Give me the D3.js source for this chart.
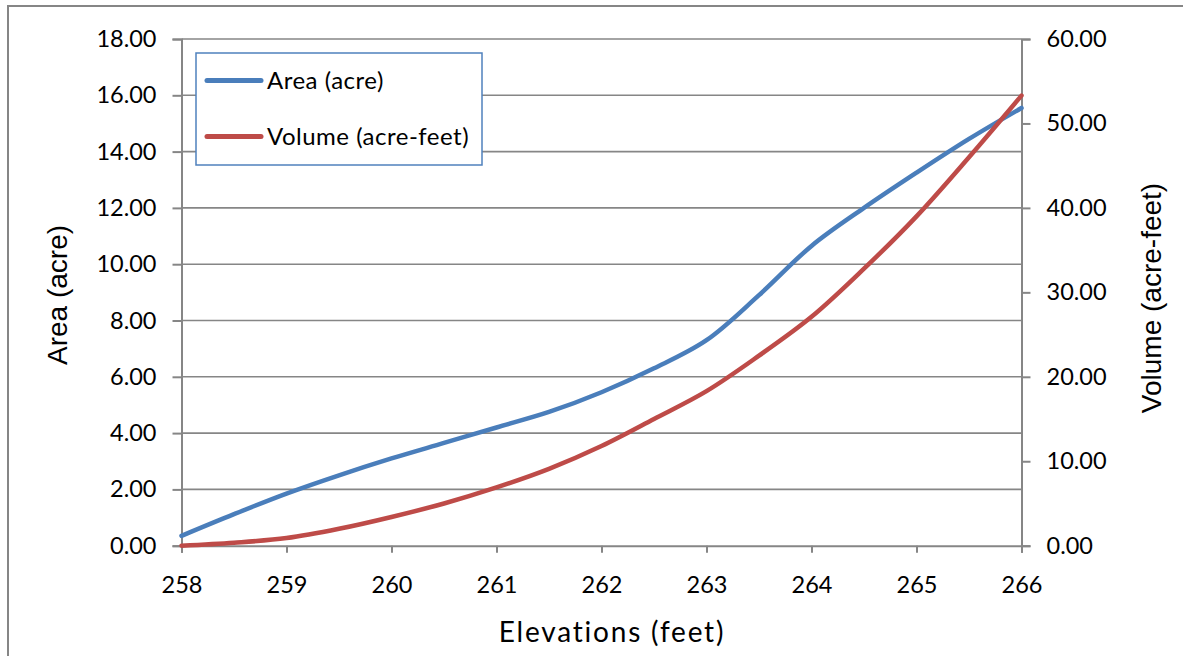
<!DOCTYPE html>
<html>
<head>
<meta charset="utf-8">
<script src="https://cdn.jsdelivr.net/npm/d3@7"></script>
<style>
  html, body { margin: 0; padding: 0; background: #fff; }
  svg { display: block; }
  .tick-label { font-family: Lato, "Open Sans", sans-serif; font-size: 23.5px; fill: #000; }
  .legend-label { font-family: Lato, "Open Sans", sans-serif; font-size: 24px; fill: #000; letter-spacing: 0.5px; }
  .title-h { font-family: Lato, "Open Sans", sans-serif; font-size: 28px; fill: #000; letter-spacing: 1.8px; }
  .title-v { font-family: "Liberation Sans", Arial, sans-serif; font-size: 28px; fill: #000; }
</style>
</head>
<body>
<svg id="chart" width="1183" height="656"></svg>
<script>
// Elevation (feet) at half-foot steps
const elevations = [258, 258.5, 259, 259.5, 260, 260.5, 261, 261.5, 262, 262.5, 263, 263.5, 264, 264.5, 265, 265.5, 266];
// Surface area (acre) at each elevation
const areaAcre = [0.35, 1.12, 1.85, 2.5, 3.1, 3.65, 4.2, 4.75, 5.45, 6.3, 7.3, 8.9, 10.65, 12.0, 13.25, 14.45, 15.55];
// Storage volume (acre-feet) at each elevation
const volumeAcreFeet = [0.0, 0.35, 0.9, 2.0, 3.4, 5.0, 6.9, 9.1, 11.8, 15.0, 18.3, 22.5, 27.1, 32.8, 39.0, 46.0, 53.3];

const xTicks = [258, 259, 260, 261, 262, 263, 264, 265, 266];
const leftTicks = [0, 2, 4, 6, 8, 10, 12, 14, 16, 18];
const rightTicks = [0, 10, 20, 30, 40, 50, 60];

const seriesNames = ["Area (acre)", "Volume (acre-feet)"];
const seriesColors = ["#4a7ebb", "#be4b48"];

const svg = d3.select("#chart");
const W = 1183, H = 656;
const plot = { left: 181.5, right: 1021.5, top: 39, bottom: 545.7 };
const gray = "#868686";

// Outer chart frame (runs past the right and bottom edges)
svg.append("rect")
  .attr("x", 8).attr("y", 6)
  .attr("width", W + 20).attr("height", H + 20)
  .attr("fill", "#fff").attr("stroke", gray).attr("stroke-width", 2);

const x = d3.scaleLinear().domain([258, 266]).range([plot.left, plot.right]);
const yL = d3.scaleLinear().domain([0, 18]).range([plot.bottom, plot.top]);
const yR = d3.scaleLinear().domain([0, 60]).range([plot.bottom, plot.top]);

// Horizontal gridlines at the left-axis ticks
svg.append("g")
  .selectAll("line")
  .data(leftTicks.filter(d => d > 0))
  .join("line")
  .attr("x1", plot.left).attr("x2", plot.right)
  .attr("y1", d => yL(d)).attr("y2", d => yL(d))
  .attr("stroke", gray).attr("stroke-width", 1.6);

// Left axis
const axL = svg.append("g")
  .attr("transform", `translate(${plot.left},0)`)
  .call(d3.axisLeft(yL).tickValues(leftTicks).tickSize(9).tickPadding(16).tickFormat(d3.format(".2f")));
// Right axis
const axR = svg.append("g")
  .attr("transform", `translate(${plot.right},0)`)
  .call(d3.axisRight(yR).tickValues(rightTicks).tickSize(9).tickPadding(16).tickFormat(d3.format(".2f")));
// Bottom axis
const axB = svg.append("g")
  .attr("transform", `translate(0,${plot.bottom})`)
  .call(d3.axisBottom(x).tickValues(xTicks).tickSize(7).tickPadding(24).tickFormat(d3.format("d")));

[axL, axR, axB].forEach(ax => {
  ax.select(".domain").attr("stroke", gray).attr("stroke-width", 2);
  ax.selectAll(".tick line").attr("stroke", gray).attr("stroke-width", 2);
  ax.selectAll(".tick text").attr("class", "tick-label").attr("font-size", null).attr("font-family", null);
  ax.attr("font-size", null).attr("font-family", null);
});
axB.selectAll(".tick text").attr("dy", "0.71em");

// Data lines
const rows = elevations.map((e, i) => ({ e, area: areaAcre[i], vol: volumeAcreFeet[i] }));
const lineArea = d3.line().x(d => x(d.e)).y(d => yL(d.area)).curve(d3.curveCatmullRom.alpha(0.5));
const lineVol = d3.line().x(d => x(d.e)).y(d => yR(d.vol)).curve(d3.curveCatmullRom.alpha(0.5));

svg.append("path").datum(rows).attr("d", lineArea)
  .attr("fill", "none").attr("stroke", seriesColors[0]).attr("stroke-width", 4.5)
  .attr("stroke-linejoin", "round").attr("stroke-linecap", "round");
svg.append("path").datum(rows).attr("d", lineVol)
  .attr("fill", "none").attr("stroke", seriesColors[1]).attr("stroke-width", 4.5)
  .attr("stroke-linejoin", "round").attr("stroke-linecap", "round");

// Legend
const lg = svg.append("g");
lg.append("rect")
  .attr("x", 196).attr("y", 53).attr("width", 286).attr("height", 112)
  .attr("fill", "#fff").attr("stroke", "#4f81bd").attr("stroke-width", 1.5);
const legendRows = [80.5, 136.5];
seriesNames.forEach((name, i) => {
  lg.append("line")
    .attr("x1", 207).attr("x2", 261)
    .attr("y1", legendRows[i]).attr("y2", legendRows[i])
    .attr("stroke", seriesColors[i]).attr("stroke-width", 5).attr("stroke-linecap", "round");
  lg.append("text").attr("class", "legend-label")
    .attr("x", 267).attr("y", legendRows[i]).attr("dy", "0.36em")
    .text(name);
});

// Axis titles
svg.append("text").attr("class", "title-h")
  .attr("x", 612).attr("y", 642)
  .attr("text-anchor", "middle").text("Elevations (feet)");
svg.append("text").attr("class", "title-v")
  .attr("transform", "translate(67,295) rotate(-90)")
  .attr("text-anchor", "middle").text("Area (acre)");
svg.append("text").attr("class", "title-v")
  .attr("transform", "translate(1161,298) rotate(-90)")
  .attr("text-anchor", "middle").text("Volume (acre-feet)");
</script>
</body>
</html>
